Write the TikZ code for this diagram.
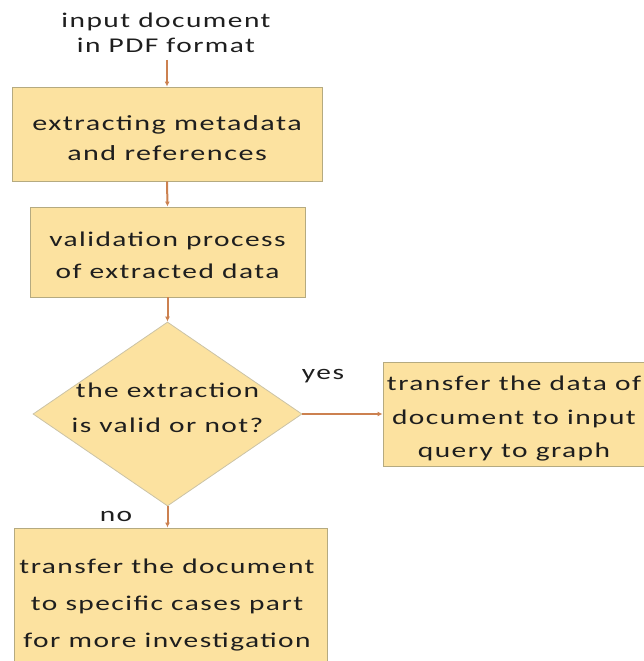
\documentclass[tikz,border=0pt]{standalone}
\usepackage{fontspec}
\setmainfont{Carlito}[FakeStretch=1.4,LetterSpace=7]
\usetikzlibrary{arrows.meta,shapes.geometric}
\definecolor{boxfill}{HTML}{FCE2A0}
\definecolor{boxline}{HTML}{B5AA80}
\definecolor{arrowc}{HTML}{CC8150}
\definecolor{txt}{HTML}{1E1E1E}
\tikzset{
  flowbox/.style={draw=boxline, line width=0.9pt, fill=boxfill, inner sep=0pt, align=center, text=txt, font=\fontsize{21}{33}\selectfont},
  plain/.style={align=center, text=txt, inner sep=0pt, font=\fontsize{21}{25}\selectfont},
  flowarrow/.style={draw=arrowc, line width=2pt, -{Latex[length=5pt,width=5pt]}}
}
\begin{document}
\begin{tikzpicture}[x=1pt,y=-1pt]
\useasboundingbox (0,0) rectangle (644,661);
\clip (0,0) rectangle (644,661);
\node[plain] (input) at (166,33) {input document\\in PDF format};
\coordinate (inbot) at (167,60);
\node[flowbox, minimum width=310pt, minimum height=94pt] (b1) at (167,134) {};
\node[plain, font=\fontsize{21.5}{30}\selectfont] (b1t) at (167,138) {extracting metadata\\and references};
\node[flowbox, minimum width=275pt, minimum height=90pt] (b2) at (167.5,252) {};
\node[plain, font=\fontsize{21}{32}\selectfont] (b2t) at (167.5,255) {validation process\\of extracted data};
\node[draw=boxline!70, line width=0.8pt, fill=boxfill, shape=diamond, minimum width=269pt, minimum height=184pt, inner sep=0pt] (d) at (167.5,414) {};
\node[plain, font=\fontsize{21}{35}\selectfont] (dt) at (167.5,408) {the extraction\\is valid or not?};
\node[flowbox, minimum width=265pt, minimum height=104pt] (r) at (515.5,414) {};
\node[plain, font=\fontsize{21}{33.5}\selectfont] (rt) at (514,419) {transfer the data of\\document to input\\query to graph};
\node[flowbox, minimum width=313pt, minimum height=150pt] (bb) at (170.5,603) {};
\node[plain, font=\fontsize{21}{37}\selectfont] (bbt) at (167,605) {transfer the document\\to specific cases part\\for more investigation};
\node[plain] (yes) at (323,376) {yes};
\node[plain] (no) at (116,516) {no};
\draw[flowarrow] (inbot) -- (b1.north);
\draw[flowarrow] (b1.south) -- (b2.north);
\draw[flowarrow] (b2.south) -- (d.north);
\draw[flowarrow, line width=1.6pt] (d.east) -- (r.west);
\draw[flowarrow] (d.south) -- (d.south |- bb.north);
\end{tikzpicture}
\end{document}
